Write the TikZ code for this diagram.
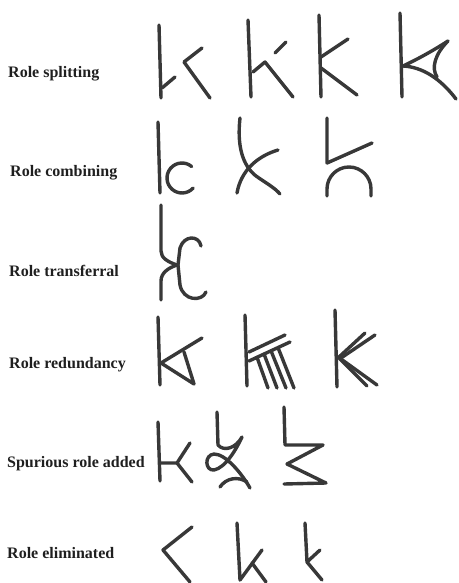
\documentclass[tikz,border=0pt]{standalone}
\usepackage{fontspec}
\setmainfont{Liberation Serif}
\usetikzlibrary{calc}

\begin{document}
\begin{tikzpicture}[x=1pt, y=-1pt,
  glyph/.style={line width=3.4pt, line cap=round, line join=round, draw=black!78},
  rolelabel/.style={anchor=base west, inner sep=0pt, text=black!88,
    font=\fontsize{16}{18}\selectfont\bfseries}]
  \useasboundingbox (0,0) rectangle (458,583);

  % Labels
  \node[rolelabel] (lsplit)  at (8,78)  {Role splitting};
  \node[rolelabel] (lcomb)   at (10,176) {Role combining};
  \node[rolelabel] (ltrans)  at (9,276) {Role transferral};
  \node[rolelabel] (lredund) at (9,368) {Role redundancy};
  \node[rolelabel] (lspur)   at (7,467) {Spurious role added};
  \node[rolelabel] (lelim)   at (7,558) {Role eliminated};

  % Role splitting
  \draw[glyph] (159,25) -- (161,98);
  \draw[glyph] (162,88) -- (175,77);
  \draw[glyph] (202,48) -- (184,62) -- (210,98);

  \draw[glyph] (248,20) -- (251,97);
  \draw[glyph] (253,72) -- (265,62) -- (293,97);
  \draw[glyph] (275,53) -- (286,42);

  \draw[glyph] (319,15) -- (321,97);
  \draw[glyph] (321,57) -- (348,39);
  \draw[glyph] (321,68) -- (357,95);

  \coordinate (J) at (403,66);
  \coordinate (T) at (448,41);
  \draw[glyph] (400,13) -- (402,97);
  \draw[glyph] (J) .. controls (420,58) and (434,50) .. (T);
  \draw[glyph] (J) .. controls (422,67) and (440,78) .. (456,99);
  \draw[glyph] (T) .. controls (435,54) and (431,68) .. (437,77);

  % Role combining
  \draw[glyph] (158,122) -- (160,193);
  \draw[glyph] ([shift={(-50:15)}]182,178) arc[start angle=-50, end angle=-318, radius=15];

  \draw[glyph] (240,118) .. controls (237,145) and (242,165) .. (256,176)
    .. controls (266,183) and (275,188) .. (280,194);
  \draw[glyph] (278,150) .. controls (258,156) and (241,170) .. (237,193);

  \draw[glyph] (327,118) -- (327,163) -- (372,143);
  \draw[glyph] (327,196) -- (327,189) arc[start angle=180, end angle=360, radius=22] -- (371,196);

  % Role transferral
  \draw[glyph] (161,205) -- (161,251) .. controls (161,258) and (168,262) .. (177,265)
    .. controls (168,268) and (161,273) .. (161,281) -- (161,300);
  \draw[glyph] (201,246) .. controls (199,235) and (184,235) .. (180,248)
    -- (178,265) -- (180,285) .. controls (183,301) and (202,302) .. (206,292);

  % Role redundancy
  \draw[glyph] (158,317) -- (160,385);
  \draw[glyph] (161,363) -- (202,338);
  \draw[glyph] (184,352) -- (194,384) -- (161,363);

  \draw[glyph] (245,315) -- (247,386);
  \draw[glyph] (249,352) -- (285,335);
  \draw[glyph] (249,361) -- (290,342);
  \foreach \a/\b in {257/268, 264/277, 271/286, 278/294}
    \draw[glyph] (\a,{361-(\a-249)*19/41}) -- (\b,388);

  \draw[glyph] (335,310) -- (337,387);
  \draw[glyph] (339,357) -- (365,333);
  \draw[glyph] (341,358) -- (375,335);
  \draw[glyph] (339,358) -- (367,386);
  \draw[glyph] (341,359) -- (377,385);

  % Spurious role added
  \draw[glyph] (158,422) -- (160,481);
  \draw[glyph] (160,463) -- (177,463) -- (190,443);
  \draw[glyph] (177,463) -- (192,482);

  \draw[glyph] (217,412) -- (218,445) .. controls (224,452) and (236,448) .. (242,437)
    .. controls (236,450) and (225,468) .. (214,470)
    .. controls (205,471) and (204,455) .. (214,454)
    .. controls (226,454) and (242,474) .. (250,488);
  \draw[glyph] (220,487) .. controls (226,478) and (238,476) .. (247,482);

  \draw[glyph] (284,407) -- (285,445) -- (323,445) -- (287,464) -- (326,483) -- (284,484);

  % Role eliminated
  \draw[glyph] (192,527) -- (163,550) -- (190,582);

  \draw[glyph] (237,523) -- (240,580) -- (262,550);
  \draw[glyph] (252,563) -- (266,582);

  \draw[glyph] (305,523) -- (307,562) -- (320,550);
  \draw[glyph] (307,562) -- (322,580);
\end{tikzpicture}
\end{document}
